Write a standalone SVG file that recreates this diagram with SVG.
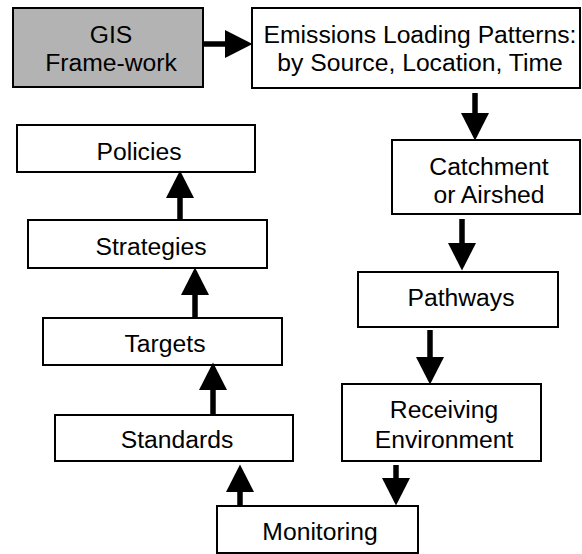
<svg xmlns="http://www.w3.org/2000/svg" width="582" height="554" viewBox="0 0 582 554">
<style>
.box{fill:#fff;stroke:#000;stroke-width:2}
.gis{fill:#b3b3b3;stroke:#000;stroke-width:2}
text{font-family:"Liberation Sans",Arial,sans-serif;font-size:24.7px;fill:#000;text-anchor:middle}
.conn line{stroke:#000;stroke-width:5.5;marker-end:url(#ah)}
</style>
<defs>
<marker id="ah" markerUnits="userSpaceOnUse" markerWidth="28" markerHeight="30" viewBox="0 -15 28 30" refX="0" refY="0" orient="auto">
<path d="M0,-14 L27.5,0 L0,14 Z" fill="#000"/>
</marker>
</defs>
<rect width="582" height="554" fill="#fff"/>
<g id="gis"><rect class="gis" x="13" y="8" width="190" height="79"/><text x="111" y="43">GIS</text><text x="111" y="71">Frame-work</text></g>
<g id="emissions"><rect class="box" x="252" y="8" width="328" height="80"/><text x="420" y="43">Emissions Loading Patterns:</text><text x="420" y="71">by Source, Location, Time</text></g>
<g id="catchment"><rect class="box" x="392" y="140" width="188" height="74"/><text x="489" y="175">Catchment</text><text x="489" y="203">or Airshed</text></g>
<g id="pathways"><rect class="box" x="358" y="272" width="200" height="55"/><text x="461" y="306">Pathways</text></g>
<g id="receiving"><rect class="box" x="342" y="384" width="199" height="77"/><text x="444" y="418">Receiving</text><text x="444" y="448">Environment</text></g>
<g id="monitoring"><rect class="box" x="217" y="506" width="201" height="47"/><text x="320" y="540">Monitoring</text></g>
<g id="standards"><rect class="box" x="55" y="415" width="238" height="46"/><text x="177" y="448">Standards</text></g>
<g id="targets"><rect class="box" x="43" y="318" width="239" height="47"/><text x="165" y="352">Targets</text></g>
<g id="strategies"><rect class="box" x="28" y="220" width="239" height="48"/><text x="151" y="255">Strategies</text></g>
<g id="policies"><rect class="box" x="17" y="125" width="238" height="47"/><text x="139" y="160">Policies</text></g>
<g id="connectors" class="conn">
<line x1="203" y1="44" x2="225" y2="44"/>
<line x1="475" y1="93" x2="475" y2="113"/>
<line x1="462" y1="219" x2="462" y2="243"/>
<line x1="430" y1="330" x2="430" y2="357"/>
<line x1="396" y1="465" x2="396" y2="478"/>
<line x1="240" y1="506" x2="240" y2="492"/>
<line x1="213" y1="415" x2="213" y2="390"/>
<line x1="195" y1="318" x2="195" y2="295"/>
<line x1="180" y1="220" x2="180" y2="198"/>
</g>
</svg>
